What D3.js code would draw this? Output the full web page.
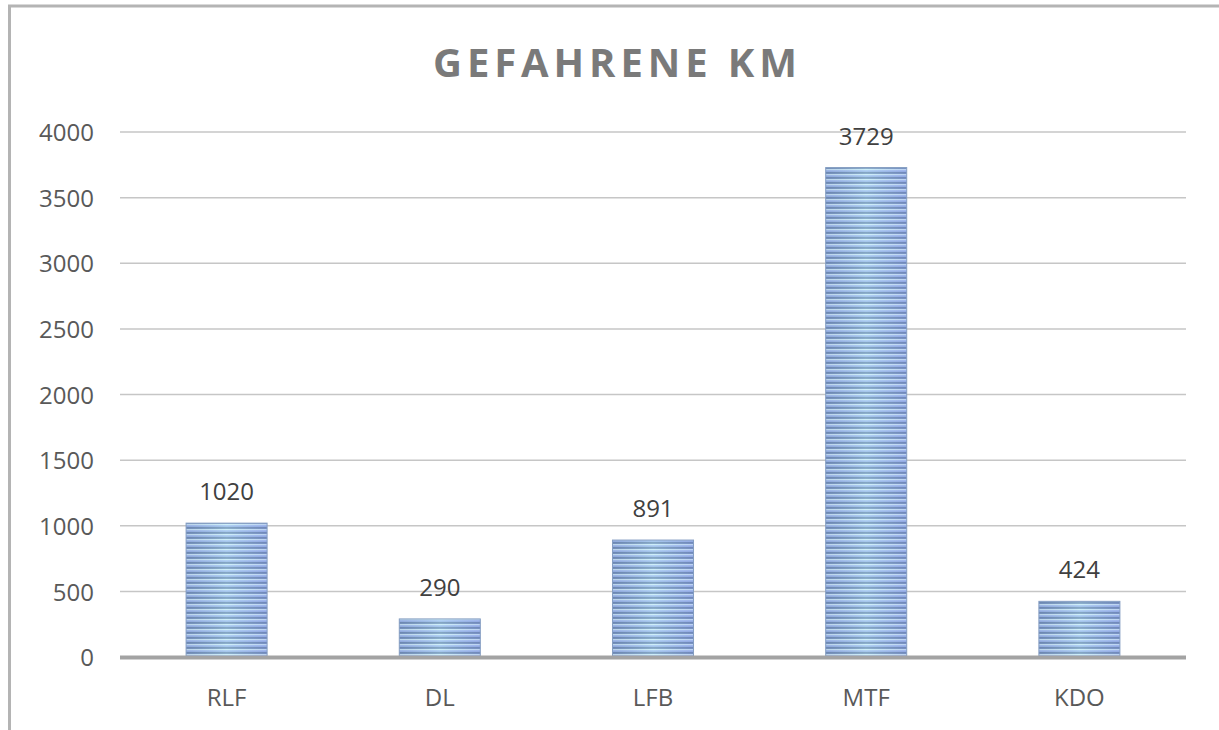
<!DOCTYPE html>
<html>
<head>
<meta charset="utf-8">
<script src="https://cdn.jsdelivr.net/npm/d3@7"></script>
<style>
  html, body { margin: 0; padding: 0; background: #fff; }
  svg { display: block; }
</style>
</head>
<body>
<svg id="chart" width="1219" height="730"></svg>
<script>
const categories = ["RLF", "DL", "LFB", "MTF", "KDO"];
const values = [1020, 290, 891, 3729, 424];
const yTicks = [0, 500, 1000, 1500, 2000, 2500, 3000, 3500, 4000];
const titleText = "GEFAHRENE KM";

const svg = d3.select("#chart");
const W = 1219, H = 730;
const plot = { left: 120, right: 1186, top: 132, bottom: 657 };
const font = "'Open Sans', 'DejaVu Sans', sans-serif";

// outer chart border (left + top visible)
svg.append("path")
  .attr("d", `M9.5,${H + 5} L9.5,6 L${W + 5},6`)
  .attr("fill", "none")
  .attr("stroke", "#b4b4b4")
  .attr("stroke-width", 3);

const x = d3.scaleBand()
  .domain(categories)
  .range([plot.left, plot.right])
  .paddingInner(0.62)
  .paddingOuter(0.31);

const y = d3.scaleLinear()
  .domain([0, 4000])
  .range([plot.bottom, plot.top]);

// defs: stripe pattern + sheen gradient
const defs = svg.append("defs");
const pat = defs.append("pattern")
  .attr("id", "stripes")
  .attr("patternUnits", "userSpaceOnUse")
  .attr("width", 8).attr("height", 5)
  .attr("y", plot.bottom);
const rows = ["#6d89ad", "#7793b8", "#d2ecf6", "#a9c3ee", "#9bb5e4"];
rows.forEach((c, i) => {
  pat.append("rect").attr("x", 0).attr("y", i).attr("width", 8).attr("height", 1).attr("fill", c);
});

const hg = defs.append("linearGradient").attr("id", "sheenH")
  .attr("x1", "0").attr("x2", "1").attr("y1", "0").attr("y2", "0");
hg.append("stop").attr("offset", "0%").attr("stop-color", "#6a7fc0").attr("stop-opacity", 0.22);
hg.append("stop").attr("offset", "50%").attr("stop-color", "#c4f6ff").attr("stop-opacity", 0.28);
hg.append("stop").attr("offset", "100%").attr("stop-color", "#7a86e0").attr("stop-opacity", 0.25);

// gridlines
const grid = svg.append("g");
grid.selectAll("line")
  .data(yTicks.filter(d => d !== 0))
  .join("line")
  .attr("x1", plot.left).attr("x2", plot.right)
  .attr("y1", d => y(d)).attr("y2", d => y(d))
  .attr("stroke", "#c6c6c6")
  .attr("stroke-width", 1.5);

// y axis labels
const yAxis = d3.axisLeft(y).tickValues(yTicks).tickSize(0).tickPadding(0).tickFormat(d3.format("d"));
const yg = svg.append("g").attr("transform", `translate(94,0)`).call(yAxis);
yg.select(".domain").remove();
yg.selectAll("text")
  .attr("font-family", font)
  .attr("font-size", 24)
  .attr("fill", "#595959")
  .attr("dy", "0.36em");

// bars
const bars = svg.append("g");
bars.selectAll("rect.base")
  .data(values)
  .join("rect")
  .attr("class", "base")
  .attr("x", (d, i) => x(categories[i]))
  .attr("width", x.bandwidth())
  .attr("y", d => y(d))
  .attr("height", d => y(0) - y(d))
  .attr("fill", "url(#stripes)");
bars.selectAll("rect.sheen")
  .data(values)
  .join("rect")
  .attr("class", "sheen")
  .attr("x", (d, i) => x(categories[i]))
  .attr("width", x.bandwidth())
  .attr("y", d => y(d))
  .attr("height", d => y(0) - y(d))
  .attr("fill", "url(#sheenH)")
  .attr("stroke", "#859ec2")
  .attr("stroke-width", 1);

// baseline
svg.append("line")
  .attr("x1", plot.left).attr("x2", plot.right)
  .attr("y1", y(0) + 0.5).attr("y2", y(0) + 0.5)
  .attr("stroke", "#a3a3a3")
  .attr("stroke-width", 4);

// data labels
svg.append("g").selectAll("text")
  .data(values)
  .join("text")
  .attr("x", (d, i) => x(categories[i]) + x.bandwidth() / 2)
  .attr("y", d => y(d) - 23)
  .attr("text-anchor", "middle")
  .attr("font-family", font)
  .attr("font-size", 24)
  .attr("fill", "#404040")
  .text(d => d);

// x axis labels
const xAxis = d3.axisBottom(x).tickSize(0).tickPadding(0);
const xg = svg.append("g").attr("transform", `translate(0,${plot.bottom})`).call(xAxis);
xg.select(".domain").remove();
xg.selectAll("text")
  .attr("font-family", font)
  .attr("font-size", 24)
  .attr("fill", "#595959")
  .attr("dy", "0")
  .attr("y", 49);

// title
svg.append("text")
  .attr("x", 433)
  .attr("y", 77)
  .attr("font-family", font)
  .attr("font-weight", "bold")
  .attr("font-size", 40)
  .attr("fill", "#7a7a7a")
  .attr("textLength", 364)
  .attr("lengthAdjust", "spacing")
  .text(titleText);
</script>
</body>
</html>
